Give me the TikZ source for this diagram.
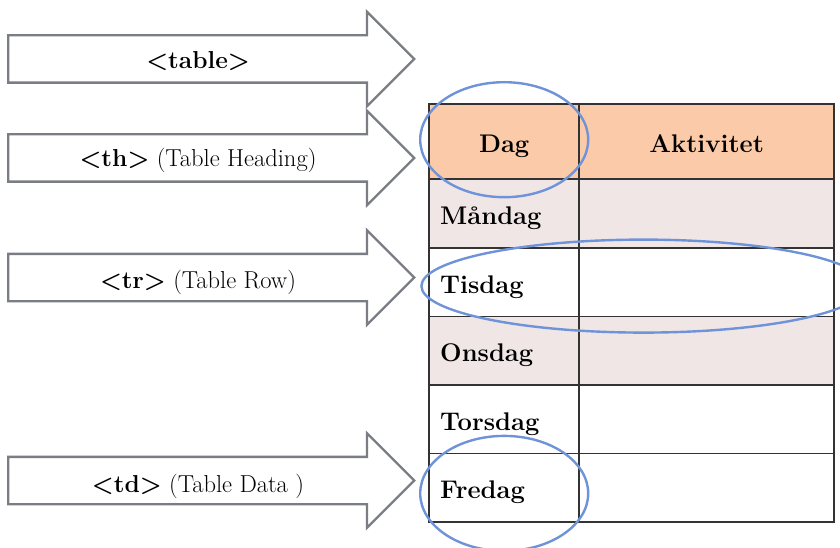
\documentclass[tikz,border=0pt]{standalone}
\usepackage{fontspec}
\usetikzlibrary{matrix,shapes.arrows,shapes.geometric}
\definecolor{headpeach}{HTML}{FBCBA9}
\definecolor{rowpink}{HTML}{F0E6E6}
\definecolor{ringblue}{HTML}{6F93D8}
\definecolor{arrowgray}{HTML}{7A7E84}
\definecolor{gridgray}{HTML}{333333}

\begin{document}
\begin{tikzpicture}[x=1pt,y=-1pt,
tagarrow/.style={single arrow, draw=arrowgray, line width=2.4pt, fill=white, anchor=tail,
    minimum height=406pt, inner xsep=0pt, inner ysep=22.5pt, single arrow head extend=23.5pt},
taglabel/.style={anchor=base, font=\fontsize{24.5}{29}\selectfont},
ring/.style={ellipse, draw=ringblue, line width=2.4pt, minimum width=168pt, minimum height=115pt},
array/.style={matrix of nodes,nodes={outer sep=0pt, minimum height=68.6pt,
    anchor=center, text height=22pt, text depth=0pt, font=\fontsize{25.5}{30}\selectfont\bfseries},
column sep=0pt, row sep=0pt, nodes in empty cells, inner sep=0pt,
column 1/.style={nodes={text width=128pt, inner xsep=11pt, align=left}},
column 2/.style={nodes={minimum width=255pt}},
row 1/.style={nodes={fill=headpeach, minimum height=75pt}},
row 1 column 1/.style={nodes={align=center}},
row 2/.style={nodes={fill=rowpink}},
row 4/.style={nodes={fill=rowpink}}}]
\useasboundingbox (0,0) rectangle (840,548);
\clip (0,0) rectangle (840,548);

% arrows for the tags
\node[tagarrow] (tablearrow) at (7,59) {};
\node[taglabel] (tablelabel) at (198,69) {\textbf{<table>}};
\node[tagarrow] (heading) at (7,158) {};
\node[taglabel] (headinglabel) at (198,167) {\textbf{<th>} (Table Heading)};
\node[tagarrow] (rowarrow) at (7,277.5) {};
\node[taglabel] (rowlabel) at (198,288) {\textbf{<tr>} (Table Row)};
\node[tagarrow] (dataarrow) at (7,480.5) {};
\node[taglabel] (datalabel) at (198,492) {\textbf{<td>} (Table Data )};

% the table
\matrix[array, anchor=north west] (tbl) at (429,104) {
Dag & Aktivitet\\
Måndag & \\
Tisdag & \\
Onsdag & \\
Torsdag & \\
Fredag & \\};
\foreach \r in {1,...,6}
  \foreach \c in {1,2}
    \draw[gridgray, line width=1.7pt] (tbl-\r-\c.north west) rectangle (tbl-\r-\c.south east);

% rings
\node[ring] (dagring) at ([yshift=2pt]tbl-1-1) {};
\node[ring, minimum width=444pt, minimum height=93pt, anchor=west] (rowring)
  at ([xshift=-9pt, yshift=-4pt]tbl-3-1.west) {};
\node[ring] (dataring) at ([yshift=-5.5pt]tbl-6-1) {};
\end{tikzpicture}
\end{document}
